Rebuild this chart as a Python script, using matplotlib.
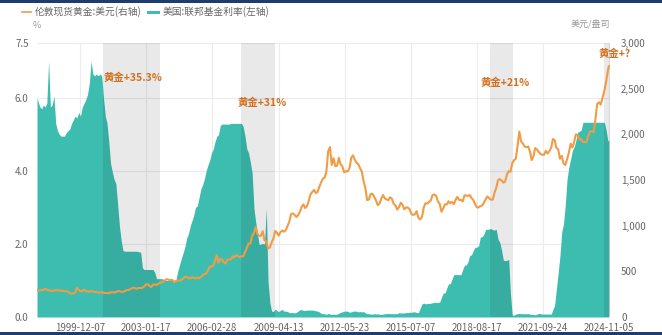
import matplotlib
matplotlib.use("Agg")
import matplotlib.pyplot as plt
from matplotlib.lines import Line2D
from matplotlib.patches import Rectangle
import pandas as pd

plt.rcParams['font.family'] = ['Noto Sans CJK SC', 'DejaVu Sans']

# ---------------- data ----------------
start_date = '1997-11-27'
end_date = '2024-11-01'
# monthly mid-points Dec-1997 .. Oct-2024
month_dates = pd.date_range('1997-12-01', '2024-10-01', freq='MS') + pd.Timedelta(days=14)
dates = pd.DatetimeIndex([pd.Timestamp(start_date)]).append(month_dates).append(
    pd.DatetimeIndex([pd.Timestamp(end_date)]))

gold = [297,
    289,
    289, 297, 296, 308, 299, 292, 289, 284, 289, 296, 294, 291,
    287, 287, 286, 282, 277, 262, 256, 257, 268, 318, 293, 283,
    285, 300, 286, 280, 275, 286, 282, 275, 273, 270, 266, 272,
    266, 262, 263, 260, 272, 270, 268, 273, 283, 283, 276, 276,
    282, 296, 294, 303, 314, 321, 314, 310, 319, 317, 319, 333,
    357, 359, 341, 328, 355, 356, 351, 360, 379, 379, 389, 407,
    414, 405, 406, 404, 384, 392, 398, 400, 406, 420, 439, 442,
    424, 424, 434, 429, 422, 431, 424, 438, 456, 470, 476, 510,
    549, 555, 557, 610, 676, 596, 633, 632, 598, 586, 628, 629,
    631, 665, 655, 679, 667, 655, 665, 665, 712, 754, 806, 803,
    889, 922, 985, 909, 888, 890, 939, 839, 829, 750, 760, 816,
    858, 943, 924, 890, 928, 946, 934, 949, 996, 1043, 1127, 1134,
    1118, 1095, 1114, 1149, 1205, 1233, 1193, 1215, 1271, 1343, 1370, 1391,
    1356, 1372, 1424, 1474, 1512, 1529, 1590, 1815, 1860, 1665, 1739, 1652,
    1656, 1742, 1673, 1650, 1585, 1596, 1594, 1626, 1744, 1770, 1721, 1688,
    1671, 1627, 1593, 1487, 1414, 1280, 1286, 1347, 1349, 1316, 1275, 1225,
    1244, 1300, 1336, 1299, 1288, 1279, 1311, 1296, 1239, 1222, 1176, 1202,
    1251, 1227, 1179, 1198, 1199, 1181, 1131, 1117, 1125, 1159, 1086, 1068,
    1097, 1200, 1246, 1242, 1260, 1276, 1337, 1341, 1326, 1267, 1236, 1152,
    1192, 1234, 1231, 1267, 1246, 1260, 1236, 1283, 1315, 1280, 1283, 1265,
    1331, 1331, 1325, 1335, 1303, 1282, 1238, 1202, 1199, 1215, 1221, 1250,
    1291, 1320, 1300, 1285, 1284, 1359, 1413, 1500, 1510, 1495, 1471, 1480,
    1560, 1597, 1591, 1683, 1716, 1732, 1870, 2030, 1922, 1900, 1866, 1858,
    1867, 1808, 1718, 1760, 1850, 1834, 1807, 1785, 1775, 1777, 1820, 1790,
    1817, 1856, 1948, 1937, 1849, 1837, 1733, 1765, 1681, 1665, 1726, 1798,
    1898, 1855, 1912, 2000, 1992, 1943, 1951, 1918, 1916, 1916, 1985, 2031,
    2034, 2023, 2159, 2331, 2351, 2326, 2398, 2470, 2571, 2690,
    2745]

fed_rate = [6.0,
    5.9,
    5.75, 5.7, 5.8, 5.75, 5.85, 7.0, 5.75, 5.8, 6.05, 5.3, 5.1, 5.0,
    4.95, 4.95, 4.95, 5.05, 5.1, 5.15, 5.3, 5.4, 5.5, 5.45, 5.6, 5.5,
    5.75, 5.85, 5.95, 6.1, 6.4, 7.0, 6.65, 6.6, 6.65, 6.6, 6.65, 6.6,
    5.98, 5.49, 5.31, 4.80, 4.21, 3.97, 3.77, 3.65, 3.07, 2.49, 2.09, 1.82,
    1.80, 1.80, 1.80, 1.80, 1.80, 1.80, 1.80, 1.80, 1.78, 1.78, 1.34, 1.30,
    1.30, 1.30, 1.30, 1.30, 1.30, 1.22, 1.05, 1.05, 1.05, 1.05, 1.03, 1.00,
    1.00, 1.01, 1.00, 1.00, 1.00, 1.03, 1.26, 1.43, 1.61, 1.76, 1.93, 2.16,
    2.28, 2.50, 2.63, 2.79, 3.00, 3.04, 3.26, 3.50, 3.62, 3.78, 4.00, 4.16,
    4.29, 4.49, 4.59, 4.79, 4.94, 4.99, 5.24, 5.28, 5.28, 5.28, 5.28, 5.28,
    5.30, 5.30, 5.30, 5.30, 5.30, 5.30, 5.30, 5.20, 4.94, 4.60, 4.49, 4.24,
    3.94, 2.98, 2.61, 2.28, 1.98, 2.00, 2.01, 2.00, 2.98, 0.97, 0.39, 0.16,
    0.15, 0.22, 0.18, 0.15, 0.18, 0.21, 0.16, 0.16, 0.15, 0.12, 0.12, 0.12,
    0.11, 0.13, 0.16, 0.20, 0.20, 0.18, 0.18, 0.19, 0.19, 0.19, 0.19, 0.18,
    0.17, 0.16, 0.14, 0.10, 0.09, 0.09, 0.07, 0.10, 0.08, 0.07, 0.08, 0.07,
    0.08, 0.10, 0.13, 0.14, 0.16, 0.16, 0.16, 0.13, 0.14, 0.16, 0.16, 0.16,
    0.14, 0.15, 0.14, 0.15, 0.11, 0.09, 0.09, 0.08, 0.08, 0.09, 0.08, 0.09,
    0.07, 0.07, 0.08, 0.09, 0.09, 0.10, 0.09, 0.09, 0.09, 0.09, 0.09, 0.12,
    0.11, 0.11, 0.11, 0.12, 0.12, 0.13, 0.13, 0.14, 0.14, 0.12, 0.12, 0.24,
    0.36, 0.38, 0.36, 0.37, 0.37, 0.38, 0.39, 0.40, 0.40, 0.40, 0.41, 0.54,
    0.66, 0.66, 0.79, 0.91, 0.91, 1.04, 1.16, 1.16, 1.16, 1.16, 1.16, 1.30,
    1.42, 1.42, 1.51, 1.69, 1.70, 1.82, 1.91, 1.91, 1.95, 2.19, 2.20, 2.27,
    2.40, 2.40, 2.41, 2.42, 2.39, 2.38, 2.40, 2.13, 2.04, 1.83, 1.55, 1.55,
    1.55, 1.58, 0.65, 0.05, 0.05, 0.08, 0.09, 0.10, 0.09, 0.09, 0.09, 0.09,
    0.09, 0.08, 0.07, 0.07, 0.06, 0.08, 0.10, 0.09, 0.08, 0.08, 0.08, 0.08,
    0.08, 0.08, 0.20, 0.33, 0.77, 1.21, 1.68, 2.33, 2.56, 3.08, 3.78, 4.10,
    4.33, 4.57, 4.65, 4.83, 5.06, 5.08, 5.12, 5.33, 5.33, 5.33, 5.33, 5.33,
    5.33, 5.33, 5.33, 5.33, 5.33, 5.33, 5.33, 5.33, 5.13, 4.83,
    4.83]

shade_periods = [('2001-01-03', '2003-09-15'),
                 ('2007-07-15', '2009-02-15'),
                 ('2019-04-03', '2020-05-04'),
                 ('2024-08-03', '2024-11-25')]

x_tick_labels = ['1999-12-07', '2003-01-17', '2006-02-28', '2009-04-13', '2012-05-23',
                 '2015-07-07', '2018-08-17', '2021-09-24', '2024-11-05']
left_ticks = [0.0, 2.0, 4.0, 6.0, 7.5]
right_ticks = [0, 500, 1000, 1500, 2000, 2500, 3000]

annotations = ['黄金+35.3%', '黄金+31%', '黄金+21%', '黄金+?']
legend_labels = ['伦敦现货黄金:美元(右轴)', '美国:联邦基金利率(左轴)']

# ---------------- style ----------------
TEAL = '#3dbdb0'
GOLD = '#f19c45'
ANN = '#d2701f'
TXT = '#666666'
GRID = '#ececec'

W, H = 662, 335
fig = plt.figure(figsize=(W / 100, H / 100), dpi=100)
fig.patch.set_facecolor('white')

ax = fig.add_axes([37 / W, 1 - 317 / H, (610 - 37) / W, (317 - 43) / H])
ax2 = ax.twinx()

ax.fill_between(dates, 0, fed_rate, color=TEAL, lw=0, zorder=1)
for s, e in shade_periods:
    ax.axvspan(pd.Timestamp(s), pd.Timestamp(e), color='black', alpha=0.085, lw=0, zorder=2)

ax2.plot(dates, gold, color=GOLD, lw=1.5, zorder=3)

ax.set_xlim(pd.Timestamp('1997-11-27'), pd.Timestamp('2024-11-22'))
ax.set_ylim(0, 7.5)
ax2.set_ylim(0, 3000)

ax.set_xticks([pd.Timestamp(t) for t in x_tick_labels])
ax.set_xticklabels(x_tick_labels)
ax.set_yticks(left_ticks)
ax.set_yticklabels([f'{v:.1f}' for v in left_ticks])
ax2.set_yticks(right_ticks)
ax2.set_yticklabels([f'{v:,}' for v in right_ticks])

ax.set_axisbelow(True)
ax.grid(True, color=GRID, lw=0.8, zorder=0)
for a in (ax, ax2):
    for sp in a.spines.values():
        sp.set_visible(False)
ax.tick_params(axis='both', length=0, labelsize=7, colors=TXT, pad=6)
ax.tick_params(axis='x', pad=4)
ax2.tick_params(axis='y', length=0, labelsize=7, colors=TXT, pad=8)

# annotations (pixel layout)
ann_pos = [(104, 78), (238, 103), (481, 83), (599, 54)]
for txt, (px, py) in zip(annotations, ann_pos):
    fig.text(px / W, 1 - py / H, txt, color=ANN, fontsize=7.5, fontweight='bold',
             ha='left', va='center')

# legend
fig.add_artist(Line2D([22 / W, 31 / W], [1 - 12 / H, 1 - 12 / H], color=GOLD, lw=1.2))
fig.text(35 / W, 1 - 12 / H, legend_labels[0], color=TXT, fontsize=7, ha='left', va='center')
fig.add_artist(Rectangle((147 / W, 1 - 13.5 / H), 13 / W, 3 / H, color=TEAL, lw=0))
fig.text(163 / W, 1 - 12 / H, legend_labels[1], color=TXT, fontsize=7, ha='left', va='center')
fig.text(33 / W, 1 - 25 / H, '%', color='#999999', fontsize=6.5, ha='left', va='center')
fig.text(610 / W, 1 - 24 / H, '美元/盎司', color='#999999', fontsize=6.5, ha='right', va='center')

# navy frame bars
fig.add_artist(Rectangle((0, 1 - 3 / H), 1, 3 / H, color='#1d3d6e', lw=0))
fig.add_artist(Rectangle((0, 0), 1, 3 / H, color='#1d3d6e', lw=0))

fig.savefig('out.png', dpi=100)
